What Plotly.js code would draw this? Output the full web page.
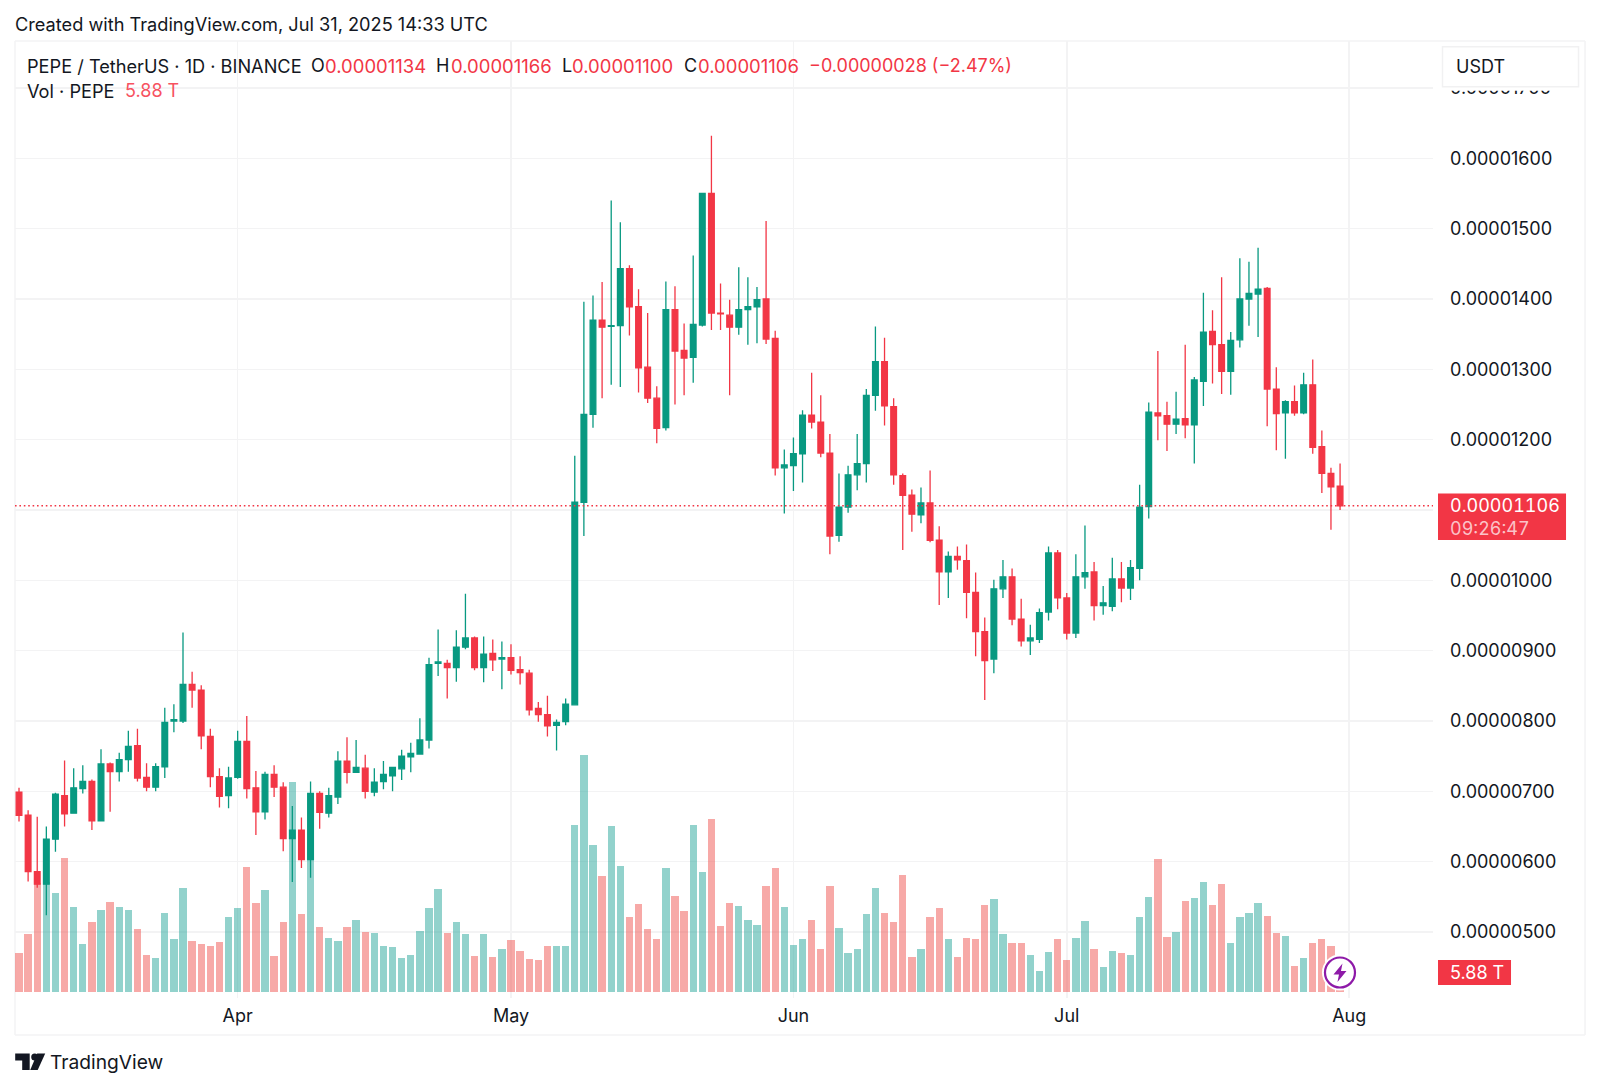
<!DOCTYPE html>
<html>
<head>
<meta charset="utf-8">
<script src="https://cdn.plot.ly/plotly-3.0.1.min.js"></script>
<style>
html,body{margin:0;padding:0;background:#fff}
.ytick text,.annotation[data-index="14"] text{font-variant-numeric:tabular-nums;font-feature-settings:"tnum" 1}
</style>
</head>
<body>
<div id="chart" style="width:1600px;height:1088px"></div>
<script>
// daily candles, prices in units of 0.00000001 USDT, volume in trillions
var dates = [
  '2025-03-08','2025-03-09','2025-03-10','2025-03-11','2025-03-12','2025-03-13','2025-03-14','2025-03-15','2025-03-16','2025-03-17','2025-03-18','2025-03-19',
  '2025-03-20','2025-03-21','2025-03-22','2025-03-23','2025-03-24','2025-03-25','2025-03-26','2025-03-27','2025-03-28','2025-03-29','2025-03-30','2025-03-31',
  '2025-04-01','2025-04-02','2025-04-03','2025-04-04','2025-04-05','2025-04-06','2025-04-07','2025-04-08','2025-04-09','2025-04-10','2025-04-11','2025-04-12',
  '2025-04-13','2025-04-14','2025-04-15','2025-04-16','2025-04-17','2025-04-18','2025-04-19','2025-04-20','2025-04-21','2025-04-22','2025-04-23','2025-04-24',
  '2025-04-25','2025-04-26','2025-04-27','2025-04-28','2025-04-29','2025-04-30','2025-05-01','2025-05-02','2025-05-03','2025-05-04','2025-05-05','2025-05-06',
  '2025-05-07','2025-05-08','2025-05-09','2025-05-10','2025-05-11','2025-05-12','2025-05-13','2025-05-14','2025-05-15','2025-05-16','2025-05-17','2025-05-18',
  '2025-05-19','2025-05-20','2025-05-21','2025-05-22','2025-05-23','2025-05-24','2025-05-25','2025-05-26','2025-05-27','2025-05-28','2025-05-29','2025-05-30',
  '2025-05-31','2025-06-01','2025-06-02','2025-06-03','2025-06-04','2025-06-05','2025-06-06','2025-06-07','2025-06-08','2025-06-09','2025-06-10','2025-06-11',
  '2025-06-12','2025-06-13','2025-06-14','2025-06-15','2025-06-16','2025-06-17','2025-06-18','2025-06-19','2025-06-20','2025-06-21','2025-06-22','2025-06-23',
  '2025-06-24','2025-06-25','2025-06-26','2025-06-27','2025-06-28','2025-06-29','2025-06-30','2025-07-01','2025-07-02','2025-07-03','2025-07-04','2025-07-05',
  '2025-07-06','2025-07-07','2025-07-08','2025-07-09','2025-07-10','2025-07-11','2025-07-12','2025-07-13','2025-07-14','2025-07-15','2025-07-16','2025-07-17',
  '2025-07-18','2025-07-19','2025-07-20','2025-07-21','2025-07-22','2025-07-23','2025-07-24','2025-07-25','2025-07-26','2025-07-27','2025-07-28','2025-07-29',
  '2025-07-30','2025-07-31'];
var opens = [
  699,666,586,568,632,694,669,704,714,658,739,728,745,765,720,706,735,800,800,852,844,778,721,694,
  720,771,705,671,724,706,633,645,603,697,669,692,743,727,733,699,714,722,732,749,753,773,882,882,
  876,905,918,876,896,888,890,873,868,818,809,794,799,823,1111,1236,1370,1361,1362,1443,1389,1303,1259,
  1217,1385,1327,1317,1363,1550,1380,1377,1360,1385,1389,1400,1344,1160,1163,1180,1235,1225,1181,1064,
  1104,1150,1166,1263,1311,1247,1149,1121,1093,1110,1057,1012,1034,1028,983,927,888,988,1005,945,914,
  916,955,1039,975,925,1005,1012,964,963,1002,989,1017,1105,1238,1234,1222,1230,1221,1283,1354,1335,
  1297,1342,1400,1407,1415,1272,1238,1254,1238,1278,1190,1152,1134];
var highs = [
  705,673,664,650,698,744,733,737,717,760,741,755,786,789,740,740,819,824,926,870,851,789,733,735,
  786,807,729,728,737,713,679,663,714,700,705,757,777,773,752,733,743,734,759,769,804,890,930,887,
  929,981,920,920,916,913,909,892,873,827,836,802,832,1177,1396,1405,1424,1540,1509,1448,1414,1380,1276,
  1425,1418,1365,1462,1551,1632,1422,1399,1445,1431,1417,1511,1355,1186,1203,1242,1295,1263,1208,1152,
  1163,1208,1272,1361,1345,1259,1152,1129,1132,1156,1077,1041,1048,1051,1011,947,1001,1029,1017,974,937,
  960,1048,1043,982,1037,1078,1026,992,1032,1026,1029,1136,1253,1326,1254,1268,1335,1289,1409,1384,1431,
  1353,1458,1453,1473,1417,1303,1256,1277,1295,1314,1213,1160,1166];
var lows = [
  657,572,563,524,614,650,668,697,645,658,671,714,728,714,700,700,719,784,797,819,760,706,677,676,
  718,690,638,660,692,615,571,591,577,647,663,682,711,726,690,693,703,700,716,727,753,761,864,832,
  856,902,872,855,871,845,866,852,808,799,778,758,794,822,1063,1217,1259,1278,1275,1348,1267,1252,1195,
  1213,1250,1263,1281,1361,1356,1356,1263,1349,1335,1337,1336,1149,1095,1127,1139,1216,1175,1037,1055,
  1096,1128,1139,1241,1220,1136,1043,1069,1081,1054,965,975,1015,946,892,830,868,975,936,906,894,
  911,943,959,916,918,988,943,951,956,969,972,1000,1088,1199,1184,1208,1202,1166,1248,1280,1265,
  1264,1331,1362,1346,1219,1185,1173,1234,1236,1180,1124,1072,1100];
var closes = [
  666,586,568,632,696,668,705,714,658,739,728,745,764,719,706,735,798,802,852,844,779,721,693,719,
  771,704,671,724,706,633,645,603,697,670,694,743,727,734,700,713,724,734,750,754,773,880,884,876,
  905,918,876,895,887,890,872,869,816,809,793,798,824,1111,1236,1370,1360,1362,1443,1389,1302,1259,1216,
  1385,1326,1316,1364,1550,1380,1379,1360,1385,1389,1399,1343,1160,1164,1180,1235,1225,1181,1063,1104,
  1150,1166,1263,1311,1248,1150,1121,1094,1110,1057,1012,1034,1029,983,927,886,988,1005,945,914,918,
  954,1039,975,925,1005,1011,964,968,1002,989,1018,1104,1239,1234,1222,1229,1221,1285,1353,1335,1297,
  1341,1400,1408,1414,1272,1237,1254,1238,1278,1189,1152,1133,1106];
var volumes = [
  11.2,16.6,31.1,31.6,28.3,38.3,24.4,13.8,20.2,23.5,25.7,24.4,23.5,18.0,10.7,9.8,22.6,15.1,29.8,14.6,13.8,13.1,14.2,21.4,
  24.0,35.7,25.5,29.1,10.3,20.2,60.1,22.3,43.5,18.5,15.5,14.6,18.5,20.7,17.2,17.0,13.1,12.9,9.8,10.7,17.5,24.0,29.6,16.8,
  20.1,16.6,10.3,16.6,10.0,12.2,14.9,11.8,9.5,9.2,13.1,13.1,13.1,47.9,67.9,42.0,33.3,47.7,36.2,21.6,25.1,18.0,15.3,
  35.4,27.6,23.1,47.9,34.4,49.5,18.8,25.5,24.6,20.7,19.2,30.5,35.4,24.4,13.5,15.3,20.7,12.4,30.3,18.2,
  11.1,12.2,22.3,29.8,22.6,20.1,33.5,10.0,12.4,21.4,24.2,15.1,10.0,15.5,15.1,25.0,26.7,16.5,14.1,13.9,10.7,
  5.9,11.6,15.3,9.1,15.5,20.4,12.2,7.1,11.8,11.1,10.5,21.6,27.2,38.0,15.7,17.2,26.2,27.0,31.5,25.0,30.9,
  13.9,21.6,22.6,25.5,21.8,16.8,16.1,7.5,9.6,13.9,15.1,13.1,5.88];

var priceTicks = [500,600,700,800,900,1000,1100,1200,1300,1400,1500,1600,1700];
// the 1100 label sits behind the last price tag
var priceLabels = ['0.00000500','0.00000600','0.00000700','0.00000800','0.00000900','0.00001000','','0.00001200','0.00001300','0.00001400','0.00001500','0.00001600','0.00001700'];
var monthTicks = ['2025-04-01','2025-05-01','2025-06-01','2025-07-01','2025-08-01'];
var monthLabels = ['Apr','May','Jun','Jul','Aug'];
var lastPrice = 1106;

var UP = '#089981', DOWN = '#F23645', INK = '#131722', GRID = '#F3F3F4', FONT = 'Inter, sans-serif';

// plot box in page pixels, used to place the TradingView chrome around the chart
var W = 1600, H = 1088, L = 15.3, R = 1433, T = 41, B = 998;
function px(x) { return (x - L) / (R - L); }
function py(y) { return (B - y) / (B - T); }

function note(text, x, y, color, size, extra) {
  return Object.assign({
    text: text, xref: 'paper', yref: 'paper', x: px(x - 2), y: py(y),
    xanchor: 'left', yanchor: 'middle', showarrow: false,
    font: { family: FONT, size: size || 18, color: color || INK }
  }, extra || {});
}
function box(x0, y0, x1, y1, fill, line, extra) {
  return Object.assign({
    type: 'rect', xref: 'paper', yref: 'paper',
    x0: px(x0), x1: px(x1), y0: py(y1), y1: py(y0),
    fillcolor: fill, line: { color: line || fill, width: line ? 1.5 : 0 }, layer: 'above'
  }, extra || {});
}
function pathIn(points, fill, line) {
  // points: [[cmd, x, y], ...] in page pixels
  var d = points.map(function(p) { return p[0] + (p.length > 1 ? ' ' + px(p[1]) + ' ' + py(p[2]) : ''); }).join(' ');
  return { type: 'path', xref: 'paper', yref: 'paper', path: d, fillcolor: fill, line: { color: line || fill, width: line ? 1.5 : 0 }, layer: 'above' };
}

var volTrace = {
  type: 'bar', x: dates, y: volumes, xaxis: 'x', yaxis: 'y',
  width: 0.8 * 86400000,
  marker: {
    color: closes.map(function(c, i) { return c >= opens[i] ? 'rgba(38,166,154,0.5)' : 'rgba(239,83,80,0.5)'; }),
    line: { width: 0 }
  },
  hoverinfo: 'skip', showlegend: false
};
var candleTrace = {
  type: 'candlestick', x: dates, open: opens, high: highs, low: lows, close: closes,
  xaxis: 'x', yaxis: 'y2', whiskerwidth: 0,
  increasing: { line: { color: UP, width: 1.3 }, fillcolor: UP },
  decreasing: { line: { color: DOWN, width: 1.3 }, fillcolor: DOWN },
  hoverinfo: 'skip', showlegend: false
};

var shapes = [
  // outer frame
  { type: 'line', xref: 'paper', yref: 'paper', x0: px(L), x1: px(1585), y0: py(41), y1: py(41), line: { color: GRID, width: 1.5 }, layer: 'below' },
  { type: 'line', xref: 'paper', yref: 'paper', x0: px(L), x1: px(1585), y0: py(1035), y1: py(1035), line: { color: GRID, width: 1.5 }, layer: 'below' },
  { type: 'line', xref: 'paper', yref: 'paper', x0: px(L), x1: px(L), y0: py(41), y1: py(1035), line: { color: GRID, width: 1.5 }, layer: 'below' },
  { type: 'line', xref: 'paper', yref: 'paper', x0: px(1585), x1: px(1585), y0: py(41), y1: py(1035), line: { color: GRID, width: 1.5 }, layer: 'below' },
  // last price line
  { type: 'line', xref: 'paper', yref: 'y2', x0: 0, x1: 1, y0: lastPrice, y1: lastPrice, line: { color: DOWN, width: 1.4, dash: '1.6px,2.8px' }, layer: 'above' },
  // top right panel hides the upper part of the 1700 label
  box(1437, 42, 1584, 90.7, '#FFFFFF'),
  box(1442.5, 46.7, 1578.5, 86.7, '#FFFFFF', '#F1F1F2'),
  // price and volume tags
  box(1438, 493.5, 1566, 540, DOWN),
  box(1438, 960, 1511, 985, DOWN),
  // flash icon
  { type: 'circle', xref: 'paper', yref: 'paper', x0: px(1322), x1: px(1358), y0: py(990.5), y1: py(954.5), fillcolor: '#FFFFFF', line: { width: 0 }, layer: 'above' },
  { type: 'circle', xref: 'paper', yref: 'paper', x0: px(1325), x1: px(1355), y0: py(987.5), y1: py(957.5), fillcolor: '#FFFFFF', line: { color: '#8E1AA8', width: 2.2 }, layer: 'above' },
  pathIn([['M', 1342.5, 963.5], ['L', 1333.5, 974.5], ['L', 1339, 974.5], ['L', 1337.5, 982], ['L', 1346.5, 971], ['L', 1341, 971], ['Z']], '#8E1AA8'),
  // TradingView logo
  pathIn([['M', 15.5, 1053.5], ['L', 30, 1053.5], ['L', 30, 1070], ['L', 22.5, 1070], ['L', 22.5, 1060.5], ['L', 15.5, 1060.5], ['Z']], INK),
  { type: 'circle', xref: 'paper', yref: 'paper', x0: px(31.5), x1: px(38.5), y0: py(1060.5), y1: py(1053.5), fillcolor: INK, line: { width: 0 }, layer: 'above' },
  pathIn([['M', 37.5, 1053.5], ['L', 45.5, 1053.5], ['L', 38, 1070], ['L', 30.5, 1070], ['Z']], INK)
];

var annotations = [
  note('Created with TradingView.com, Jul 31, 2025 14:33 UTC', 15.3, 24, INK, 18.2),
  note('PEPE / TetherUS · 1D · BINANCE', 27.5, 66, INK, 18.2),
  note('O', 311, 66, INK), note('0.00001134', 325.5, 66, DOWN, 18.5),
  note('H', 436.7, 66, INK), note('0.00001166', 451, 66, DOWN, 18.5),
  note('L', 562, 66, INK), note('0.00001100', 572.5, 66, DOWN, 18.5),
  note('C', 683.7, 66, INK), note('0.00001106', 698, 66, DOWN, 18.5),
  note('−0.00000028 (−2.47%)', 809, 66, DOWN),
  note('Vol · PEPE', 27.5, 91, INK, 18.2),
  note('5.88 T', 125, 91, '#F7525F'),
  note('USDT', 1456, 67, INK),
  note('0.00001106<br><span style="color:#FBC3C8">09:26:47</span>', 1450, 516.7, '#FFFFFF', 18, { align: 'left' }),
  note('5.88 T', 1450, 972.5, '#FFFFFF'),
  note('TradingView', 50.5, 1062, INK, 19.2)
];

var layout = {
  width: W, height: H,
  margin: { l: L, r: W - R, t: T, b: H - B, pad: 0 },
  paper_bgcolor: '#FFFFFF', plot_bgcolor: '#FFFFFF',
  font: { family: FONT, color: INK, size: 18 },
  showlegend: false, dragmode: false, hovermode: false, bargap: 0, boxgap: 0.375, boxgroupgap: 0,
  xaxis: {
    type: 'date', range: ['2025-03-07 13:26', '2025-08-10 04:48'],
    tickmode: 'array', tickvals: monthTicks, ticktext: monthLabels, tickangle: 0,
    showgrid: true, gridcolor: GRID, gridwidth: 1.5, zeroline: false, showline: false, ticks: '',
    ticklabelstandoff: 5, rangeslider: { visible: false }, fixedrange: true,
    tickfont: { family: FONT, size: 18, color: INK }
  },
  yaxis: { range: [-1.72, 272.5], visible: false, showgrid: false, zeroline: false, fixedrange: true },
  yaxis2: {
    overlaying: 'y', side: 'right', anchor: 'x', range: [406.2, 1766.8],
    tickmode: 'array', tickvals: priceTicks, ticktext: priceLabels,
    showgrid: true, gridcolor: GRID, gridwidth: 1.5, zeroline: false, showline: false, ticks: '',
    ticklabelstandoff: 16, fixedrange: true,
    tickfont: { family: FONT, size: 18, color: INK }
  },
  shapes: shapes,
  annotations: annotations
};

Plotly.newPlot('chart', [volTrace, candleTrace], layout, { displayModeBar: false, staticPlot: true });
</script>
</body>
</html>
